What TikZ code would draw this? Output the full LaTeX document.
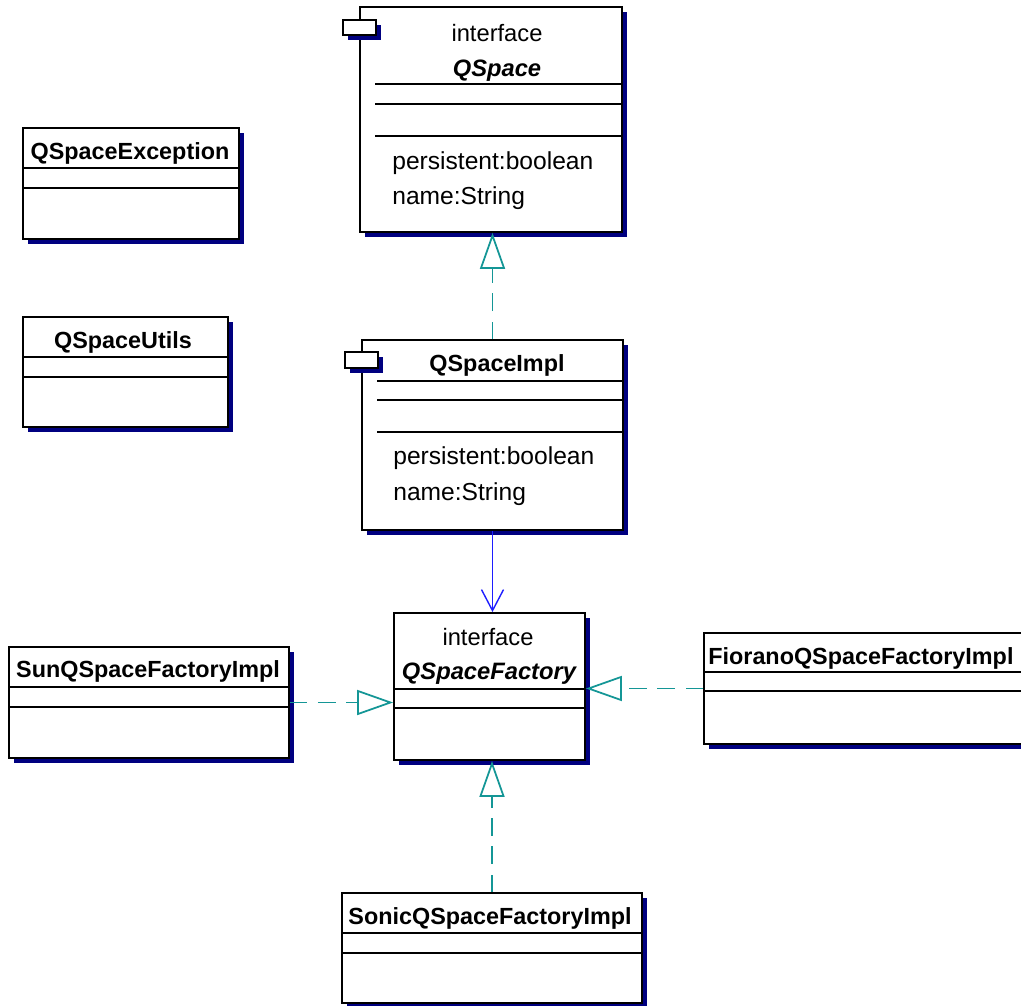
\documentclass[tikz,border=0pt]{standalone}
\usepackage{fontspec}
\newfontfamily\umlfont{Liberation Sans}
\usetikzlibrary{arrows.meta,fit,shadows}
\definecolor{shade}{RGB}{0,0,128}
\definecolor{tealline}{RGB}{20,150,150}
\definecolor{blueline}{RGB}{30,30,255}
\tikzset{
  classbox/.style={draw=black, line width=1pt, fill=white, inner sep=0pt,
    drop shadow={shadow xshift=0.1cm, shadow yshift=-0.1cm, fill=shade, opacity=1}},
  divider/.style={line width=0.9pt},
  cname/.style={font=\umlfont\bfseries\fontsize{13.3}{16}\selectfont, inner sep=0pt},
  iname/.style={font=\umlfont\bfseries\itshape\fontsize{13.5}{16}\selectfont, inner sep=0pt},
  stereo/.style={font=\umlfont\fontsize{13.5}{16}\selectfont, inner sep=0pt},
  attr/.style={font=\umlfont\fontsize{14}{16}\selectfont, inner sep=0pt, anchor=west},
  realizes/.style={tealline, line width=1pt, dash pattern=on 10pt off 6pt,
    -{Triangle[fill=white, length=0.72cm, width=0.5cm]}},
  uses/.style={blueline, line width=0.8pt, -{Straight Barb[length=0.42cm, width=0.44cm]}}
}
\begin{document}
\begin{tikzpicture}[x=0.02cm, y=-0.02cm]
\useasboundingbox (0,0) rectangle (1021,1006);

\node[classbox, fit={(360,7) (622,232)}] (qspace) {};
\node[classbox, fit={(343,20) (376,35)}] (qspacetab) {};
\draw[divider] (375,84) -- (622,84) (375,104) -- (622,104) (375,136) -- (622,136);
\node[stereo] (qspacestereo) at (497,33) {interface};
\node[iname] (qspacename) at (497,71) {QSpace};
\node[attr] (qspacepers) at (392,163) {persistent:boolean};
\node[attr] (qspacenm) at (392,198) {name:String};

\node[classbox, fit={(362,340) (623,530)}] (qspaceimpl) {};
\node[classbox, fit={(345,352) (378,368)}] (qspaceimpltab) {};
\draw[divider] (377,381) -- (623,381) (377,400) -- (623,400) (377,432) -- (623,432);
\node[cname] (qspaceimplname) at (497,365) {QSpaceImpl};
\node[attr] (qspaceimplpers) at (393,458) {persistent:boolean};
\node[attr] (qspaceimplnm) at (393,494) {name:String};

\node[classbox, fit={(23,128) (239,239)}] (qexception) {};
\draw[divider] (23,168) -- (239,168) (23,188) -- (239,188);
\node[cname] (qexceptionname) at (130,153) {QSpaceException};

\node[classbox, fit={(23,317) (228,427)}] (qutils) {};
\draw[divider] (23,357) -- (228,357) (23,377) -- (228,377);
\node[cname] (qutilsname) at (123,342) {QSpaceUtils};

\node[classbox, fit={(394,613) (585,760)}] (factory) {};
\draw[divider] (394,689) -- (585,689) (394,708) -- (585,708);
\node[stereo] (factorystereo) at (488,637) {interface};
\node[iname] (factoryname) at (489,674) {QSpaceFactory};

\node[classbox, fit={(9,647) (289,758)}] (sun) {};
\draw[divider] (9,687) -- (289,687) (9,707) -- (289,707);
\node[cname] (sunname) at (148,671) {SunQSpaceFactoryImpl};

\node[classbox, fit={(704,633) (1045,744)}] (fiorano) {};
\draw[divider] (704,672) -- (1045,672) (704,691) -- (1045,691);
\node[cname, anchor=west] (fioranoname) at (708,658) {FioranoQSpaceFactoryImpl};

\node[classbox, fit={(342,893) (642,1003)}] (sonic) {};
\draw[divider] (342,933) -- (642,933) (342,953) -- (642,953);
\node[cname] (sonicname) at (490,918) {SonicQSpaceFactoryImpl};

\draw[realizes] (qspaceimpl.north) -- (qspaceimpl.north |- qspace.south);
\draw[uses] (qspaceimpl.south) -- (qspaceimpl.south |- factory.north);
\draw[realizes] (sun.east) -- (sun.east -| factory.west);
\draw[realizes] (fiorano.west) -- (fiorano.west -| factory.east);
\draw[realizes] (sonic.north) -- (sonic.north |- factory.south);
\end{tikzpicture}
\end{document}
